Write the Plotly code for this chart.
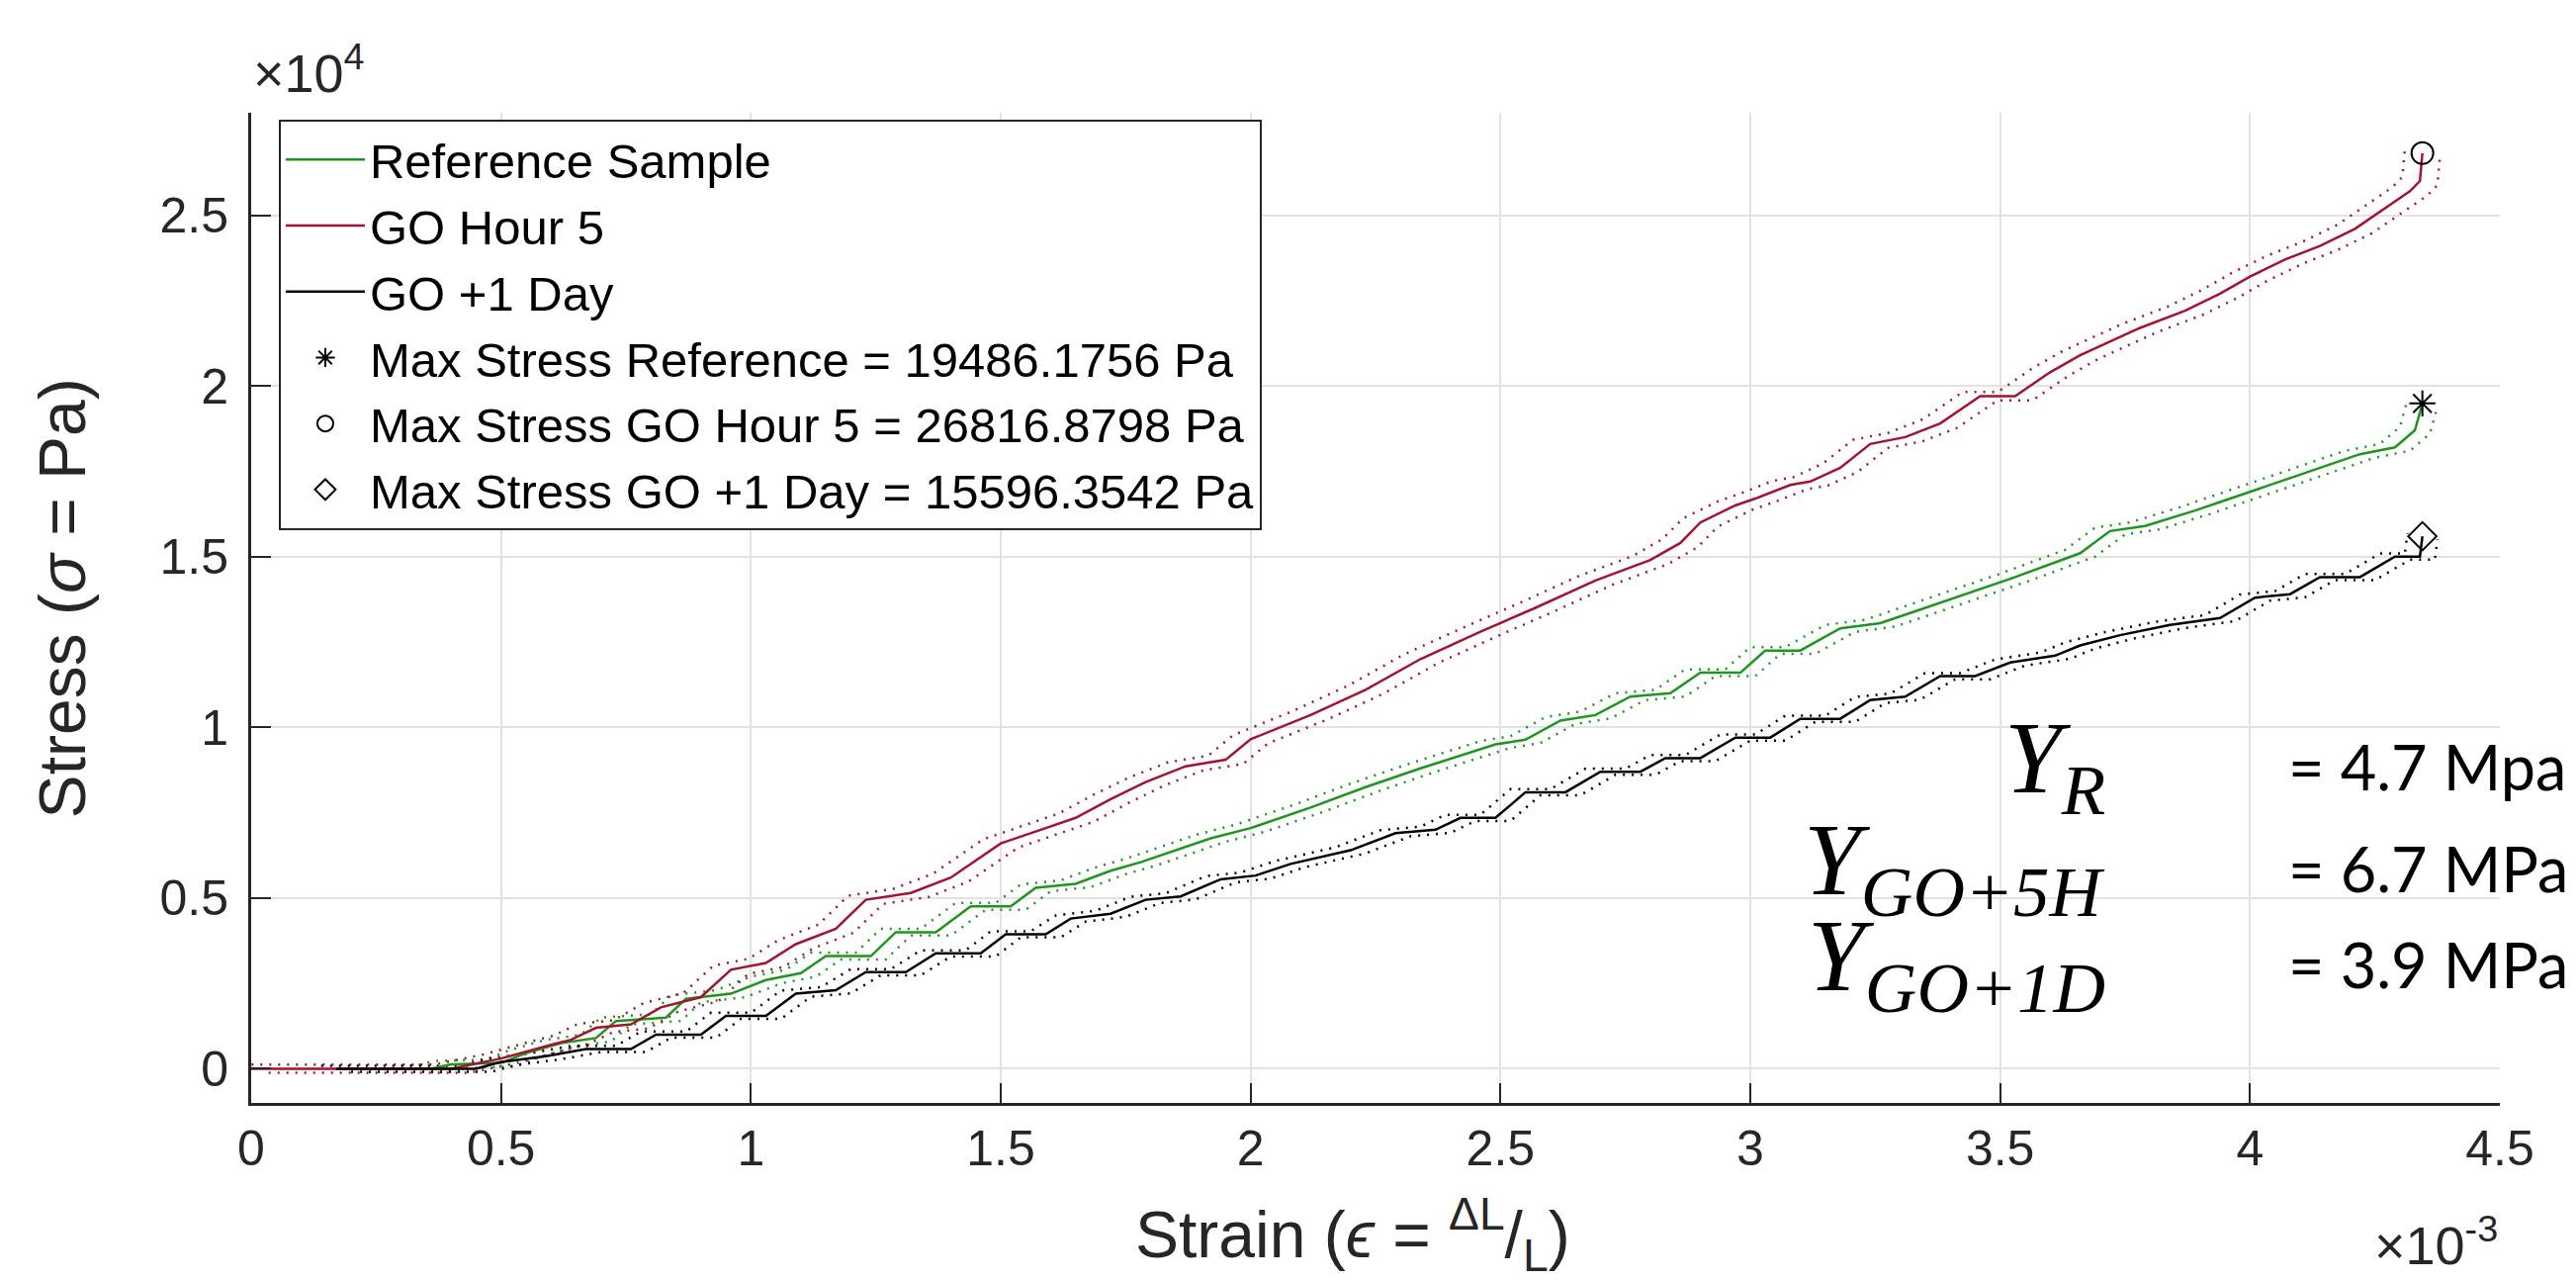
import plotly.graph_objects as go

# strain in units of 1e-3 (as the axis shows), stress in Pa
REF_STRAIN = [0.33, 0.36, 0.40, 0.50, 0.55, 0.62, 0.69, 0.73, 0.83, 0.87, 0.96, 1.03, 1.10, 1.15, 1.24,
              1.29, 1.37, 1.44, 1.52, 1.57, 1.65, 1.72, 1.78, 1.86, 1.92, 2.00, 2.12, 2.23, 2.34,
              2.49, 2.55, 2.62, 2.69, 2.76, 2.84, 2.90, 2.98, 3.03, 3.10, 3.18, 3.26, 3.33, 3.43,
              3.53, 3.66, 3.72, 3.79, 3.89, 3.94, 4.02, 4.12, 4.22, 4.29, 4.33, 4.345]
REF_STRESS = [0, 0, 130, 170, 460, 750, 900, 1400, 1500, 2050, 2200, 2600, 2800, 3300, 3300,
              4000, 4000, 4760, 4760, 5300, 5420, 5800, 6050, 6450, 6750, 7050, 7650, 8250, 8800,
              9500, 9640, 10200, 10360, 10900, 11000, 11600, 11600, 12250, 12250, 12900, 13050, 13400, 13900,
              14400, 15100, 15750, 15900, 16350, 16600, 17000, 17500, 18000, 18200, 18700, 19486.1756]

GO5_STRAIN = [0, 0.40, 0.45, 0.50, 0.60, 0.64, 0.69, 0.76, 0.82, 0.90, 0.96, 1.03, 1.09, 1.17, 1.23,
              1.32, 1.40, 1.45, 1.50, 1.58, 1.65, 1.72, 1.79, 1.87, 1.95, 2.00, 2.12, 2.23, 2.34,
              2.46, 2.57, 2.69, 2.80, 2.86, 2.90, 2.97, 3.01, 3.08, 3.12, 3.18, 3.24, 3.31, 3.38,
              3.46, 3.53, 3.60, 3.66, 3.78, 3.87, 3.94, 4.00, 4.07, 4.14, 4.21, 4.28, 4.32, 4.34, 4.345]
GO5_STRESS = [0, 0, 150, 300, 700, 850, 1200, 1300, 1800, 2100, 2900, 3100, 3650, 4100, 4950,
              5150, 5600, 6100, 6600, 7000, 7350, 7900, 8400, 8860, 9050, 9650, 10360, 11100, 12000,
              12800, 13500, 14300, 14900, 15400, 16000, 16500, 16700, 17100, 17200, 17600, 18300, 18500, 18900,
              19700, 19700, 20400, 20900, 21700, 22200, 22700, 23200, 23700, 24100, 24600, 25300, 25700, 26000, 26816.8798]

GO1D_STRAIN = [0.17, 0.45, 0.50, 0.59, 0.67, 0.76, 0.81, 0.90, 0.95, 1.03, 1.09, 1.17, 1.23, 1.31, 1.37,
               1.46, 1.51, 1.59, 1.64, 1.72, 1.79, 1.86, 1.94, 2.01, 2.08, 2.20, 2.29, 2.37, 2.42,
               2.49, 2.55, 2.63, 2.70, 2.78, 2.83, 2.90, 2.97, 3.04, 3.10, 3.18, 3.24, 3.31, 3.38,
               3.45, 3.52, 3.61, 3.66, 3.74, 3.84, 3.94, 4.01, 4.08, 4.14, 4.22, 4.29, 4.34, 4.345]
GO1D_STRESS = [0, 0, 200, 370, 580, 580, 1000, 1000, 1550, 1550, 2200, 2300, 2830, 2830, 3380,
               3380, 3940, 3940, 4400, 4540, 4950, 5050, 5550, 5660, 6000, 6400, 6900, 7000, 7350,
               7350, 8100, 8100, 8700, 8700, 9100, 9100, 9700, 9700, 10250, 10250, 10800, 10900, 11500,
               11500, 11900, 12100, 12400, 12700, 13000, 13200, 13800, 13900, 14400, 14400, 15000, 15000, 15596.3542]

REF_ERR = (0.030, 100)
GO5_ERR = (0.035, 120)
GO1D_ERR = (0.030, 90)

MAX_LABELS = ['Max Stress Reference = 19486.1756 Pa',
              'Max Stress GO Hour 5 = 26816.8798 Pa',
              'Max Stress GO +1 Day = 15596.3542 Pa']
MAX_STRAIN = [4.345, 4.345, 4.345]
MAX_STRESS = [19486.1756, 26816.8798, 15596.3542]
MAX_SYMBOLS = ['asterisk-open', 'circle-open', 'diamond-open']

Y_TICKS = [0, 5000, 10000, 15000, 20000, 25000]
Y_TICKTEXT = ['0', '0.5', '1', '1.5', '2', '2.5']
X_TICKS = [0, 0.5, 1, 1.5, 2, 2.5, 3, 3.5, 4, 4.5]
X_TICKTEXT = ['0', '0.5', '1', '1.5', '2', '2.5', '3', '3.5', '4', '4.5']

MODULI = [('Y<sub>R</sub>', '= 4.7 Mpa'),
          ('Y<sub>GO+5H</sub>', '= 6.7 MPa'),
          ('Y<sub>GO+1D</sub>', '= 3.9 MPa')]

GREEN = '#1E961E'
RED = '#A2142F'
BLACK = '#000000'
AXIS = '#262626'
FONT = 'Liberation Sans, Arial, sans-serif'

SERIES = [
    ('Reference Sample', REF_STRAIN, REF_STRESS, REF_ERR, GREEN),
    ('GO Hour 5', GO5_STRAIN, GO5_STRESS, GO5_ERR, RED),
    ('GO +1 Day', GO1D_STRAIN, GO1D_STRESS, GO1D_ERR, BLACK),
]

fig = go.Figure()

# dotted uncertainty curves first so the main lines sit on top
for name, xs, ys, (dx, dy), color in SERIES:
    for sign in (1, -1):
        fig.add_trace(go.Scatter(
            x=[x - sign * dx for x in xs], y=[v + sign * dy for v in ys],
            mode='lines', showlegend=False, hoverinfo='skip',
            line=dict(color=color, width=2.5, dash='2px,7px'),
        ))

for name, xs, ys, err, color in SERIES:
    fig.add_trace(go.Scatter(
        x=xs, y=ys, name=name, mode='lines',
        line=dict(color=color, width=2.5),
    ))

for label, x, y, sym in zip(MAX_LABELS, MAX_STRAIN, MAX_STRESS, MAX_SYMBOLS):
    fig.add_trace(go.Scatter(
        x=[x], y=[y], name=label, mode='markers',
        marker=dict(symbol=sym, size=22, color='black', line=dict(color='black', width=2)),
    ))

annotations = [
    dict(text='×10<sup>4</sup>', xref='paper', yref='paper', x=0, y=1, xanchor='left',
         yanchor='bottom', yshift=8, showarrow=False, font=dict(size=54, color=AXIS)),
    dict(text='×10<sup>-3</sup>', xref='paper', yref='paper', x=1, y=0, xanchor='right',
         yanchor='top', yshift=-104, showarrow=False, font=dict(size=54, color=AXIS)),
    dict(text='Strain (<i>ϵ</i> = <sup>ΔL</sup>/<sub>L</sub>)', xref='paper', yref='paper',
         x=0.49, y=-0.1329, xanchor='center', yanchor='middle', showarrow=False,
         font=dict(size=66, color=AXIS)),
    dict(text='Stress (<i>σ</i> = Pa)', xref='paper', yref='paper', x=-0.0836, y=0.51,
         xanchor='center', yanchor='middle', textangle=-90, showarrow=False,
         font=dict(size=66, color=AXIS)),
]

row_y = [0.3347, 0.2318, 0.1349]
for (left, right), ry in zip(MODULI, row_y):
    annotations.append(dict(text=left, xref='paper', yref='paper', x=0.8254, y=ry,
                            xanchor='right', yanchor='middle', yshift=6, showarrow=False,
                            font=dict(size=104, color='black', family='Liberation Serif, serif',
                                      style='italic')))
    annotations.append(dict(text=right, xref='paper', yref='paper', x=0.905, y=ry,
                            xanchor='left', yanchor='middle', yshift=5, showarrow=False,
                            font=dict(size=63, color='black', family='Lato, sans-serif')))

fig.update_layout(
    width=2605, height=1294,
    margin=dict(l=246, r=85, t=106, b=187),
    paper_bgcolor='white', plot_bgcolor='white',
    font=dict(family=FONT, color=AXIS, size=48),
    showlegend=True,
    legend=dict(x=0.0123, y=0.993, xanchor='left', yanchor='top',
                bgcolor='white', bordercolor=AXIS, borderwidth=2, itemwidth=80,
                font=dict(size=49, color='black'), tracegroupgap=0),
    annotations=annotations,
    xaxis=dict(range=[0, 4.5], tickvals=X_TICKS, ticktext=X_TICKTEXT,
               showgrid=True, gridcolor='#E3E3E3', gridwidth=2, zeroline=False,
               showline=True, linecolor=AXIS, linewidth=3, mirror=False,
               ticks='inside', ticklen=20, tickwidth=2, tickcolor=AXIS,
               tickfont=dict(size=50, color=AXIS), ticklabelstandoff=0),
    yaxis=dict(range=[-1000, 28000], tickvals=Y_TICKS, ticktext=Y_TICKTEXT,
               showgrid=True, gridcolor='#E3E3E3', gridwidth=2, zeroline=False,
               showline=True, linecolor=AXIS, linewidth=3, mirror=False,
               ticks='inside', ticklen=20, tickwidth=2, tickcolor=AXIS,
               tickfont=dict(size=50, color=AXIS), ticklabelstandoff=10),
)

fig.write_html('out.html')
